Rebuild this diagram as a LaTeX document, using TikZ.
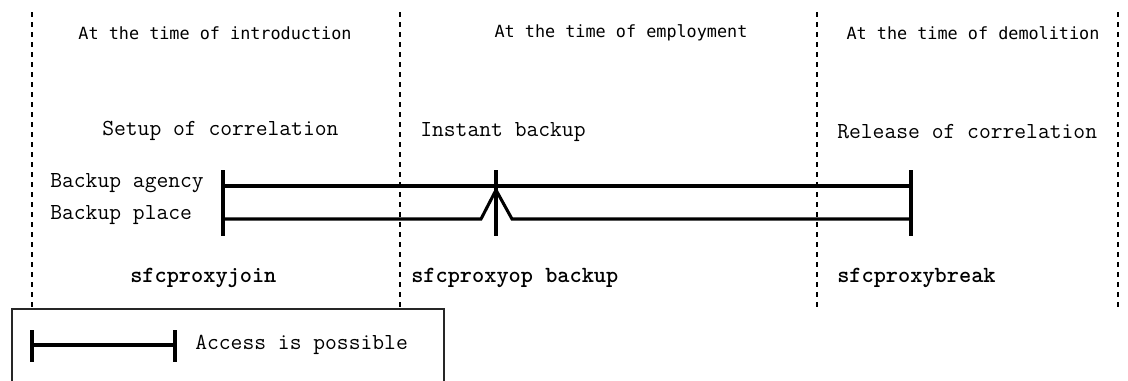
\documentclass[tikz,border=0pt]{standalone}
\usepackage{fontspec}
\newfontfamily\headfont{DejaVu Sans Mono}
\usetikzlibrary{positioning}

\begin{document}
\begin{tikzpicture}[x=0.75pt,y=-0.75pt,
	phase/.style={inner sep=0pt, font=\headfont\fontsize{12.6}{15}\selectfont},
	stagetxt/.style={inner sep=0pt, anchor=west, font=\ttfamily\fontsize{17.2}{20}\selectfont},
	cmdtxt/.style={inner sep=0pt, anchor=west, font=\ttfamily\bfseries\fontsize{17.4}{20}\selectfont},
	divider/.style={line width=1pt, dash pattern=on 4pt off 3.5pt},
	access/.style={line width=2.3pt}]
	\useasboundingbox (0,0) rectangle (1128,380);
	% phase dividers
	\foreach \x in {32, 400, 817, 1118}
	\draw[divider] (\x,12) -- (\x,309);
	\node[phase] (intro) at (215,33) {At the time of introduction};
	\node[phase] (employ) at (621,33) {At the time of employment};
	\node[phase] (demol) at (973,33) {At the time of demolition};
	% stages
	\node[stagetxt] (setup) at (102,131) {Setup of correlation};
	\node[stagetxt] (instant) at (420,132) {Instant backup};
	\node[stagetxt] (release) at (837,132) {Release of correlation};
	\node[stagetxt] (agency) at (50,183) {Backup agency};
	\node[stagetxt] (place) at (50,215) {Backup place};
	% access periods
	\foreach \x in {223, 496, 911}
	\draw[access] (\x,170) -- (\x,236);
	\draw[access] (223,186) -- (911,186);
	\draw[access] (223,219) -- (481,219) -- (496,190) -- (512,219) -- (911,219);
	% commands
	\node[cmdtxt] (join) at (130,278) {sfcproxyjoin};
	\node[cmdtxt] (backup) at (411,278) {sfcproxyop backup};
	\node[cmdtxt] (break) at (837,278) {sfcproxybreak};
	% legend
	\draw[line width=1.1pt, black!85] (12,385) -- (12,309) -- (444,309) -- (444,385);
	\draw[access] (32,330) -- (32,362);
	\draw[access] (32,345) -- (175,345);
	\draw[access] (175,330) -- (175,362);
	\node[stagetxt] (legend) at (195,345) {Access is possible};
\end{tikzpicture}
\end{document}
